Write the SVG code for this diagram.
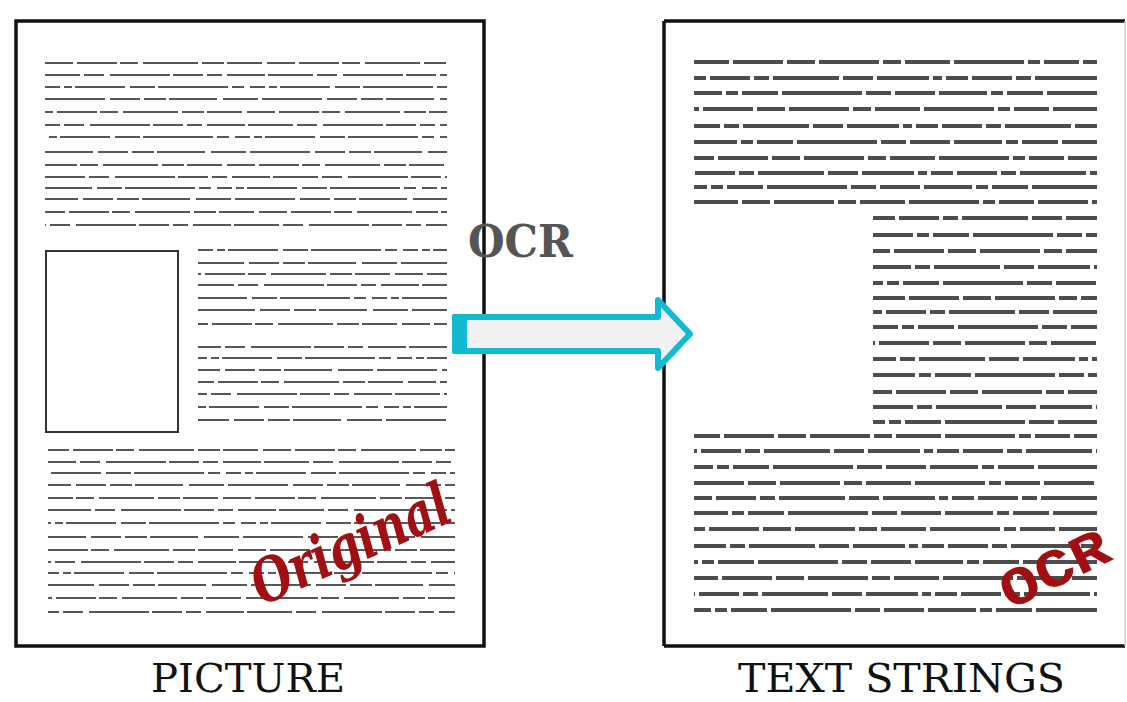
<svg xmlns="http://www.w3.org/2000/svg" width="1127" height="702" viewBox="0 0 1127 702">
<style>
.page{fill:#fff;stroke:#111;stroke-width:3.5}
.ll{fill:none;stroke:#3a3a3a;stroke-width:2.2;stroke-linecap:butt;filter:url(#soft);opacity:.85}
.rl{fill:none;stroke:#4d4d4d;stroke-width:4;filter:url(#soft2)}
.a{stroke-dasharray:28 4 40 3 18 5 55 4 22 3 35 5}
.b{stroke-dasharray:45 4 20 6 60 3 30 4 15 5 38 3}
.c{stroke-dasharray:15 4 8 3 50 5 25 3 70 4 12 6}
.d{stroke-dasharray:60 5 30 4 22 3 48 6 35 4}
.e{stroke-dasharray:35 4 50 4 28 4 60 4 18 4 45 4 70 4 12 4}
.f{stroke-dasharray:22 4 40 4 15 4 66 4 30 4 52 4 9 4}
.g{stroke-dasharray:48 4 12 4 36 4 80 4 25 4 40 4}
.label{font-family:"DejaVu Serif Condensed","DejaVu Serif",serif;font-size:39px;fill:#111}
.stamp{fill:#a10f12}
</style>
<defs>
<filter id="soft" filterUnits="userSpaceOnUse" x="0" y="0" width="1127" height="702"><feGaussianBlur stdDeviation="0.6"/></filter>
<filter id="soft2" filterUnits="userSpaceOnUse" x="0" y="0" width="1127" height="702"><feGaussianBlur stdDeviation="0.4"/></filter>
</defs>

<g id="picture-page">
<rect class="page" x="16" y="21" width="468" height="625"/>
<rect x="46" y="251" width="132" height="181" fill="#fff" stroke="#333" stroke-width="2"/>
<g>
<path class="ll a" d="M45 63H447"/>
<path class="ll b" d="M45 75H447" stroke-dashoffset="10"/>
<path class="ll c" d="M45 87H447"/>
<path class="ll d" d="M45 99H447"/>
<path class="ll a" d="M45 112H447" stroke-dashoffset="20"/>
<path class="ll b" d="M45 125H447" stroke-dashoffset="30"/>
<path class="ll c" d="M45 137H447" stroke-dashoffset="15"/>
<path class="ll d" d="M45 152H447" stroke-dashoffset="12"/>
<path class="ll a" d="M45 165H447" stroke-dashoffset="40"/>
<path class="ll b" d="M45 177H447" stroke-dashoffset="5"/>
<path class="ll c" d="M45 188H447" stroke-dashoffset="33"/>
<path class="ll d" d="M45 199H447" stroke-dashoffset="27"/>
<path class="ll a" d="M45 212H447" stroke-dashoffset="8"/>
<path class="ll b" d="M45 225H447" stroke-dashoffset="44"/>

<path class="ll c" d="M198 250H447"/>
<path class="ll d" d="M198 263H447" stroke-dashoffset="14"/>
<path class="ll a" d="M198 274H447" stroke-dashoffset="25"/>
<path class="ll b" d="M198 285H447" stroke-dashoffset="9"/>
<path class="ll c" d="M198 298H447" stroke-dashoffset="31"/>
<path class="ll d" d="M198 310H447" stroke-dashoffset="3"/>
<path class="ll a" d="M198 324H447" stroke-dashoffset="18"/>
<path class="ll b" d="M198 347H447" stroke-dashoffset="22"/>
<path class="ll c" d="M198 358H447" stroke-dashoffset="6"/>
<path class="ll d" d="M198 370H447" stroke-dashoffset="38"/>
<path class="ll a" d="M198 382H447" stroke-dashoffset="12"/>
<path class="ll b" d="M198 394H447" stroke-dashoffset="36"/>
<path class="ll c" d="M198 407H447" stroke-dashoffset="19"/>
<path class="ll d" d="M198 420H447" stroke-dashoffset="29"/>

<path class="ll a" d="M48 450H455" stroke-dashoffset="7"/>
<path class="ll b" d="M48 462H455" stroke-dashoffset="17"/>
<path class="ll c" d="M48 473H455" stroke-dashoffset="27"/>
<path class="ll d" d="M48 485H455" stroke-dashoffset="37"/>
<path class="ll a" d="M48 498H455" stroke-dashoffset="47"/>
<path class="ll b" d="M48 510H455" stroke-dashoffset="2"/>
<path class="ll c" d="M48 523H455" stroke-dashoffset="12"/>
<path class="ll d" d="M48 537H455" stroke-dashoffset="22"/>
<path class="ll a" d="M48 550H455" stroke-dashoffset="32"/>
<path class="ll b" d="M48 562H455" stroke-dashoffset="42"/>
<path class="ll c" d="M48 573H455" stroke-dashoffset="4"/>
<path class="ll d" d="M48 585H455" stroke-dashoffset="14"/>
<path class="ll a" d="M48 598H455" stroke-dashoffset="24"/>
<path class="ll b" d="M48 612H455" stroke-dashoffset="34"/>
</g>
<text class="stamp" transform="translate(262,606) rotate(-24)" font-family="'DejaVu Serif',serif" font-style="italic" font-weight="bold" font-size="60" textLength="212" lengthAdjust="spacingAndGlyphs">Original</text>
</g>

<g id="text-strings-page">
<path d="M664 21H1125M664 21V646M664 646H1125" fill="none" stroke="#111" stroke-width="3.5"/>
<path d="M1125 21V646" fill="none" stroke="#ccc" stroke-width="1.5"/>
<g>
<path class="rl e" d="M694 62H1097"/>
<path class="rl f" d="M694 78H1097" stroke-dashoffset="10"/>
<path class="rl g" d="M694 93H1097" stroke-dashoffset="20"/>
<path class="rl e" d="M694 109H1097" stroke-dashoffset="30"/>
<path class="rl f" d="M694 126H1097" stroke-dashoffset="40"/>
<path class="rl g" d="M694 142H1097" stroke-dashoffset="5"/>
<path class="rl e" d="M694 158H1097" stroke-dashoffset="15"/>
<path class="rl f" d="M694 173H1097" stroke-dashoffset="25"/>
<path class="rl g" d="M694 187H1097" stroke-dashoffset="35"/>
<path class="rl e" d="M694 202H1097" stroke-dashoffset="45"/>

<path class="rl f" d="M873 218H1097"/>
<path class="rl g" d="M873 235H1097" stroke-dashoffset="8"/>
<path class="rl e" d="M873 251H1097" stroke-dashoffset="18"/>
<path class="rl f" d="M873 267H1097" stroke-dashoffset="28"/>
<path class="rl g" d="M873 283H1097" stroke-dashoffset="38"/>
<path class="rl e" d="M873 298H1097" stroke-dashoffset="3"/>
<path class="rl f" d="M873 312H1097" stroke-dashoffset="13"/>
<path class="rl g" d="M873 327H1097" stroke-dashoffset="23"/>
<path class="rl e" d="M873 343H1097" stroke-dashoffset="33"/>
<path class="rl f" d="M873 359H1097" stroke-dashoffset="43"/>
<path class="rl g" d="M873 375H1097" stroke-dashoffset="6"/>
<path class="rl e" d="M873 392H1097" stroke-dashoffset="16"/>
<path class="rl f" d="M873 407H1097" stroke-dashoffset="26"/>
<path class="rl g" d="M873 422H1097" stroke-dashoffset="36"/>

<path class="rl e" d="M694 436H1097" stroke-dashoffset="9"/>
<path class="rl f" d="M694 451H1097" stroke-dashoffset="19"/>
<path class="rl g" d="M694 467H1097" stroke-dashoffset="29"/>
<path class="rl e" d="M694 483H1097" stroke-dashoffset="39"/>
<path class="rl f" d="M694 498H1097" stroke-dashoffset="4"/>
<path class="rl g" d="M694 513H1097" stroke-dashoffset="14"/>
<path class="rl e" d="M694 529H1097" stroke-dashoffset="24"/>
<path class="rl f" d="M694 546H1097" stroke-dashoffset="34"/>
<path class="rl g" d="M694 562H1097" stroke-dashoffset="44"/>
<path class="rl e" d="M694 578H1097" stroke-dashoffset="11"/>
<path class="rl f" d="M694 594H1097" stroke-dashoffset="21"/>
<path class="rl g" d="M694 610H1097" stroke-dashoffset="31"/>
</g>
<text class="stamp" transform="translate(1010,610) rotate(-26)" font-family="'Liberation Mono',monospace" font-weight="bold" font-size="54" textLength="116" lengthAdjust="spacingAndGlyphs">OCR</text>
</g>

<g id="connectors">
<path d="M455 317H658V300L690 334L658 368V351H455Z" fill="#f1f1f1" stroke="#12b9d3" stroke-width="6" stroke-linejoin="round"/>
<rect x="452" y="314" width="15" height="40" rx="2" fill="#12b9d3"/>
<text x="468" y="257" font-family="'DejaVu Serif',serif" font-weight="bold" font-size="44" fill="#555" textLength="105" lengthAdjust="spacingAndGlyphs">OCR</text>
</g>

<g id="labels">
<text class="label" x="151" y="692" textLength="194" lengthAdjust="spacingAndGlyphs">PICTURE</text>
<text class="label" x="738" y="692" textLength="327" lengthAdjust="spacingAndGlyphs">TEXT STRINGS</text>
</g>
</svg>
